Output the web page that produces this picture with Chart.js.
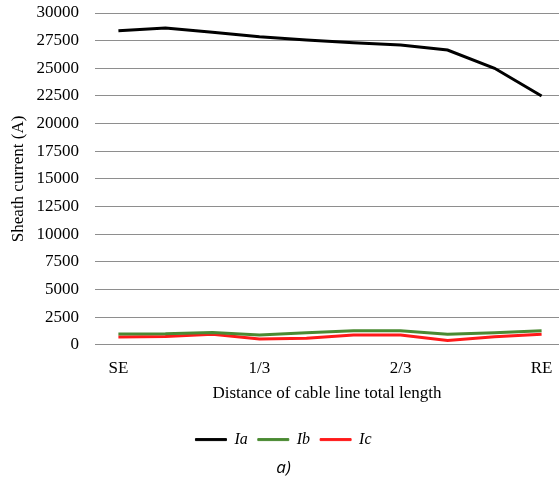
<!DOCTYPE html>
<html>
<head>
<meta charset="utf-8">
<script src="https://cdn.jsdelivr.net/npm/chart.js@4/dist/chart.umd.min.js"></script>
<style>
  html, body { margin: 0; padding: 0; background: #fff; }
  #wrap { width: 559px; height: 484px; position: relative; }
</style>
</head>
<body>
<div id="wrap"><canvas id="chart"></canvas></div>
<script>
const positions = [0, 1, 2, 3, 4, 5, 6, 7, 8, 9];
const tickLabels = { 0: 'SE', 3: '1/3', 6: '2/3', 9: 'RE' };
const ia = [28400, 28650, 28250, 27850, 27550, 27300, 27100, 26650, 25000, 22500];
const ib = [980, 1000, 1120, 880, 1080, 1270, 1270, 960, 1080, 1270];
const ic = [700, 760, 960, 520, 600, 880, 880, 380, 720, 960];

const serif = "'Liberation Serif', 'Times New Roman', serif";

function pts(values) {
  return values.map((v, i) => ({ x: positions[i], y: v }));
}

const ctx = document.getElementById('chart').getContext('2d');
new Chart(ctx, {
  type: 'line',
  data: {
    datasets: [
      { label: 'Ia', data: pts(ia), borderColor: '#000000', backgroundColor: '#000000', borderWidth: 3, pointRadius: 0, tension: 0 },
      { label: 'Ib', data: pts(ib), borderColor: '#4a8a32', backgroundColor: '#4a8a32', borderWidth: 3, pointRadius: 0, tension: 0 },
      { label: 'Ic', data: pts(ic), borderColor: '#ff1a1a', backgroundColor: '#ff1a1a', borderWidth: 3, pointRadius: 0, tension: 0 }
    ]
  },
  options: {
    responsive: true,
    maintainAspectRatio: false,
    animation: false,
    layout: { padding: { top: 13, left: 8, right: 0, bottom: 6 } },
    plugins: {
      tooltip: { enabled: false },
      legend: {
        position: 'bottom',
        labels: {
          boxWidth: 31,
          boxHeight: 2,
          padding: 10,
          color: '#000',
          font: { family: serif, size: 16, style: 'italic' },
          generateLabels(chart) {
            return chart.data.datasets.map((ds, i) => ({
              text: ds.label,
              fillStyle: ds.borderColor,
              strokeStyle: ds.borderColor,
              lineWidth: 1,
              fontColor: '#000',
              datasetIndex: i
            }));
          }
        }
      },
      title: {
        display: true,
        position: 'bottom',
        text: 'a)',
        color: '#000',
        font: { family: "'Open Sans', sans-serif", size: 17, style: 'italic', weight: 'normal' },
        padding: { top: 0, bottom: 0 }
      }
    },
    scales: {
      x: {
        type: 'linear',
        min: -0.5,
        max: 9.37,
        afterBuildTicks(scale) {
          scale.ticks = [0, 3, 6, 9].map(v => ({ value: v }));
        },
        afterFit(scale) {
          scale.paddingLeft = 0;
          scale.paddingRight = 0;
        },
        grid: { display: false, drawTicks: false },
        border: { display: false },
        ticks: {
          autoSkip: false,
          maxRotation: 0,
          padding: 14,
          color: '#000',
          font: { family: serif, size: 17 },
          callback: v => tickLabels[v] || ''
        },
        title: {
          display: true,
          text: 'Distance of cable line total length',
          color: '#000',
          font: { family: serif, size: 17 },
          padding: { top: -10, bottom: 18 }
        }
      },
      y: {
        min: 0,
        max: 30000,
        afterFit(scale) {
          scale.paddingTop = 10;
          scale.paddingBottom = 10;
        },
        grid: { color: '#8e8e8e', lineWidth: 1, drawTicks: false },
        border: { display: false },
        ticks: {
          stepSize: 2500,
          padding: 16,
          color: '#000',
          font: { family: serif, size: 17 },
          callback: v => String(v)
        },
        title: {
          display: true,
          text: 'Sheath current (A)',
          color: '#000',
          font: { family: serif, size: 17 },
          padding: { top: 0, bottom: -8 }
        }
      }
    }
  }
});
</script>
</body>
</html>
